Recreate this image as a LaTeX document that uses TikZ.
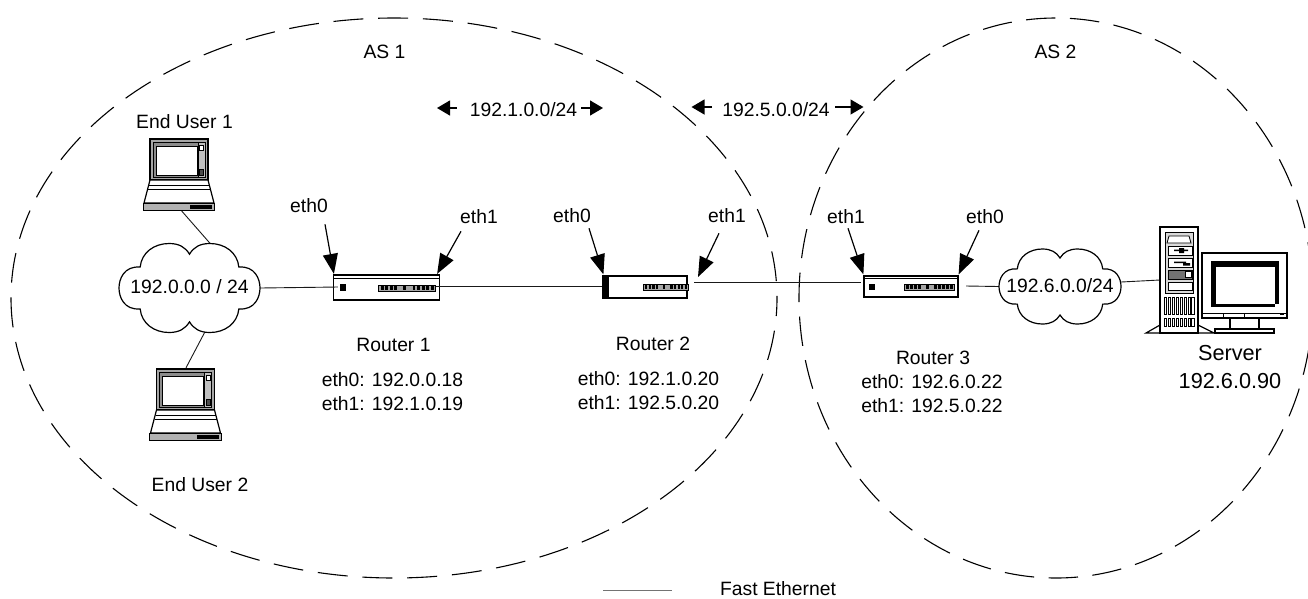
\documentclass[tikz,border=0pt]{standalone}
\usepackage{fontspec}
\setmainfont{Liberation Sans}
\usetikzlibrary{arrows.meta}
\tikzset{
  x=1pt,y=-1pt,
  lbl/.style={inner sep=0pt,font=\fontsize{19.3}{24}\selectfont,align=center},
  bigl/.style={inner sep=0pt,font=\fontsize{21.7}{28}\selectfont,align=center},
  link/.style={line width=0.9pt,black!90},
  asring/.style={line width=1.1pt},
  ptr/.style={line width=1.2pt,-{Triangle[length=20pt,width=15pt]}},
  spanarrow/.style={line width=1.2pt,-{Triangle[length=13pt,width=15pt]}},
  rtr/.style={draw,line width=1.2pt,inner sep=0pt,fill=white},
  anch/.style={inner sep=0pt,minimum size=0pt}
}
\newcommand{\cloudshape}[3]{%
\begin{scope}[shift={#1},xscale=#2,yscale=#3]
\draw[line width=1.2pt,fill=white] (-.70,-.47) .. controls (-.93,-.5) and (-1,-.2) .. (-1,0)
 .. controls (-1,.2) and (-.93,.5) .. (-.70,.47)
 .. controls (-.68,.8) and (-.5,1) .. (-.29,1)
 .. controls (-.15,1) and (-.06,.92) .. (0,.76)
 .. controls (.06,.92) and (.15,1) .. (.29,1)
 .. controls (.5,1) and (.68,.8) .. (.70,.47)
 .. controls (.93,.5) and (1,.2) .. (1,0)
 .. controls (1,-.2) and (.93,-.5) .. (.70,-.47)
 .. controls (.68,-.8) and (.5,-1) .. (.29,-1)
 .. controls (.15,-1) and (.06,-.92) .. (0,-.76)
 .. controls (-.06,-.92) and (-.15,-1) .. (-.29,-1)
 .. controls (-.5,-1) and (-.68,-.8) .. (-.70,-.47) -- cycle;
\end{scope}}
\newcommand{\laptop}[1]{%
\begin{scope}[shift={#1}]
\draw[line width=1.2pt,fill=black!35] (7,0) rectangle (65,41);
\draw[line width=.8pt,fill=black!45] (10,3) rectangle (55,38);
\draw[line width=.9pt,fill=white] (13,7) rectangle (54,36);
\draw[line width=.5pt,fill=black!25] (55,3.5) rectangle (62,38);
\draw[line width=.6pt,fill=white] (56.5,6) rectangle (60.5,11);
\draw[line width=.5pt,fill=black!70] (56.5,30) rectangle (60.5,36);
\draw[line width=1.2pt,fill=white] (7,41) -- (65,41) -- (71,64) -- (1,64) -- cycle;
\draw[line width=.8pt] (6,46) -- (66,46) (5,50) -- (67,50);
\draw[line width=1pt,fill=black!30] (0,64) rectangle (71.5,71);
\fill (47,65.5) rectangle (69,69.5);
\end{scope}}
\newcommand{\portstrip}[3]{%
\fill[black!35] (#1,#2) rectangle ++(#3,6);
\draw[line width=.6pt] (#1,#2) rectangle ++(#3,6);
\foreach \k in {1,2,3,4,6,8,9,10,11,12}{\fill (#1+#3*\k/12.5-#3/30,#2+1) rectangle ++(#3/20,4);}}
\begin{document}
\begin{tikzpicture}
\useasboundingbox (0,0) rectangle (1308,598);
% domains
\node[anch] (as1) at (394,298) {};
\node[anch] (as2) at (1056,298) {};
\draw[asring,dash pattern=on 30pt off 14.8pt,dash phase=12pt] (as1) ellipse [x radius=383,y radius=280];
\begin{scope}
\clip (0,0) rectangle (1308,598);
\draw[asring,dash pattern=on 29.5pt off 14.5pt,dash phase=40pt] (as2) ellipse [x radius=257,y radius=280];
\end{scope}
% clouds
\node[anch,minimum width=141pt,minimum height=89pt] (net1) at (189.5,288) {};
\node[anch,minimum width=122pt,minimum height=75pt] (net2) at (1060,286.5) {};
% routers
\node[rtr,minimum width=106pt,minimum height=25pt] (r1) at (386.5,287.5) {};
\node[rtr,minimum width=84pt,minimum height=22pt] (r2) at (645,287) {};
\node[rtr,minimum width=94pt,minimum height=21pt] (r3) at (911,286.5) {};
% hosts
\node[anch,minimum width=72pt,minimum height=71pt] (u1) at (179,174.5) {};
\node[anch,minimum width=72pt,minimum height=72pt] (u2) at (185,404) {};
\node[anch,minimum width=38pt,minimum height=106pt] (srv) at (1179,280) {};
% connectors
\coordinate (n1t) at (211.5,245);
\coordinate (n1b) at (207.5,327);
\draw[link] ([xshift=2pt]u1.south) -- (n1t);
\draw[link] ([xshift=1pt]u2.north) -- (n1b);
\draw[link] (net1.east) -- ([xshift=5pt,yshift=.5pt]r1.west);
\draw[link] ([xshift=-6pt,yshift=1.5pt]r1.east) -- ([yshift=1pt]r2.west);
\coordinate (r2l) at (694,282.7);
\coordinate (r3l) at (861,282.7);
\coordinate (r3s) at (966,286);
\draw[link] (r2l) -- (r3l);
\draw[link] (r3s) -- (net2.west);
\draw[link] ([yshift=4.5pt]net2.east) -- (srv.west);
% cloud drawings
\cloudshape{(189.5,288)}{70.5}{44.5}
\cloudshape{(1060,286.5)}{61}{37.5}
\laptop{(143,139)}
\laptop{(149.5,369)}
% router details
\fill (340,284) rectangle (345.5,291);
\portstrip{378}{285}{57}
\draw[line width=.7pt] (333.5,278) -- (439.5,278);
\fill (603,276) rectangle (609,298);
\portstrip{643}{284}{45}
\fill (869,284) rectangle (875,290);
\portstrip{904}{284}{50}
\draw[line width=.7pt] (864,278.5) -- (958,278.5);
% server
\begin{scope}[shift={(1146,227)}]
\draw[line width=1.2pt,fill=white] (14,0) rectangle (52,106);
\draw[line width=1.2pt] (14,98) -- (0,106) -- (14,106) (52,98) -- (68,106) -- (52,106);
\draw[line width=1pt,fill=black!15] (19,5) rectangle (47,66);
\draw[line width=.8pt,fill=white] (23,9) -- (43,9) -- (45,16) -- (21,16) -- cycle;
\draw[line width=.7pt,fill=white] (22,19) rectangle (46,28);
\draw[line width=.7pt,fill=white] (22,31) rectangle (46,40);
\fill (28,22.5) rectangle (42,24) (33,21) rectangle (38,26);
\fill (28,34.5) rectangle (40,36) (37,36) rectangle (44,38.5);
\draw[line width=.7pt,fill=black!55] (22,43) rectangle (46,52);
\draw[line width=.5pt,fill=white] (39,44.5) rectangle (45,50);
\draw[line width=.7pt,fill=white] (22,55) rectangle (46,63);
\foreach \k in {0,...,7}{\draw[line width=.7pt] (18.5+\k*3.9,70) rectangle ++(2.2,17);
 \draw[line width=.7pt] (18.5+\k*3.9,91) rectangle ++(2.2,8);}
\end{scope}
\begin{scope}[shift={(1202,253)}]
\draw[line width=1.2pt,fill=white] (0,0) rectangle (85,65);
\fill (9,8) rectangle (77,14);
\fill (9,8) rectangle (14,54);
\fill (9,51) rectangle (73,54);
\fill (73,8) rectangle (77,51);
\fill (78,60) rectangle (82,61.5);
\draw[line width=.8pt] (0,60) -- (85,60) (21,60) rectangle (42,65);
\draw[line width=1.1pt] (28,65) -- (28,76) (57,65) -- (57,76);
\draw[line width=1.1pt,fill=white] (13,76) rectangle (72,80);
\end{scope}
% pointers
\node[lbl] (e10) at (309,206) {eth0};
\node[lbl] (e11) at (479,217) {eth1};
\node[lbl] (e20) at (572,216) {eth0};
\node[lbl] (e21) at (727,216) {eth1};
\node[lbl] (e31) at (846,217) {eth1};
\node[lbl] (e30) at (985,217) {eth0};
\draw[ptr] ([xshift=16pt,yshift=-11pt]e10.south) -- ([xshift=1pt,yshift=.5pt]r1.north west);
\draw[ptr] ([xshift=-18pt,yshift=-7pt]e11.south) -- ([xshift=-3pt,yshift=.5pt]r1.north east);
\draw[ptr] ([xshift=17pt,yshift=-5pt]e20.south) -- ([xshift=1pt,yshift=1pt]r2.north west);
\coordinate (p21) at (698,277);
\draw[ptr] ([xshift=-8pt,yshift=-10pt]e21.south) -- (p21);
\draw[ptr] ([xshift=2pt,yshift=-4pt]e31.south) -- ([yshift=1pt]r3.north west);
\draw[ptr] ([xshift=-6pt,yshift=-6pt]e30.south) -- ([yshift=1pt]r3.north east);
% labels
\node[lbl] at (384.5,52) {AS 1};
\node[lbl] at (1055.5,52) {AS 2};
\node[lbl] (s1) at (523.5,110) {192.1.0.0/24};
\node[lbl] (s2) at (776,110) {192.5.0.0/24};
\coordinate (s1l) at (437,108);
\coordinate (s1r) at (603,108);
\coordinate (s2l) at (691.5,107);
\coordinate (s2r) at (863.5,107);
\draw[spanarrow] ([xshift=-13pt,yshift=2pt]s1.west) -- (s1l);
\draw[spanarrow] ([xshift=4pt,yshift=2pt]s1.east) -- (s1r);
\draw[spanarrow] ([xshift=-10pt,yshift=3pt]s2.west) -- (s2l);
\draw[spanarrow] ([xshift=5.5pt,yshift=3pt]s2.east) -- (s2r);
\node[lbl] at (184.5,122) {End User 1};
\node[lbl] at (200,485) {End User 2};
\node[lbl] at (189.5,287) {192.0.0.0 / 24};
\node[lbl] at (1060,286) {192.6.0.0/24};
\node[lbl] at (393.5,345) {Router 1};
\node[lbl] at (653,344) {Router 2};
\node[lbl] at (933,358) {Router 3};
\node[lbl] at (392.5,392) {eth0: 192.0.0.18\\eth1: 192.1.0.19};
\node[lbl] at (648.5,391) {eth0: 192.1.0.20\\eth1: 192.5.0.20};
\node[lbl] at (932,393.5) {eth0: 192.6.0.22\\eth1: 192.5.0.22};
\node[bigl] at (1230,367) {Server\\192.6.0.90};
\coordinate (k1) at (603,590);
\coordinate (k2) at (671.5,590);
\draw[line width=.9pt,black!55] (k1) -- (k2);
\node[lbl] at (778,589) {Fast Ethernet};
\end{tikzpicture}
\end{document}
